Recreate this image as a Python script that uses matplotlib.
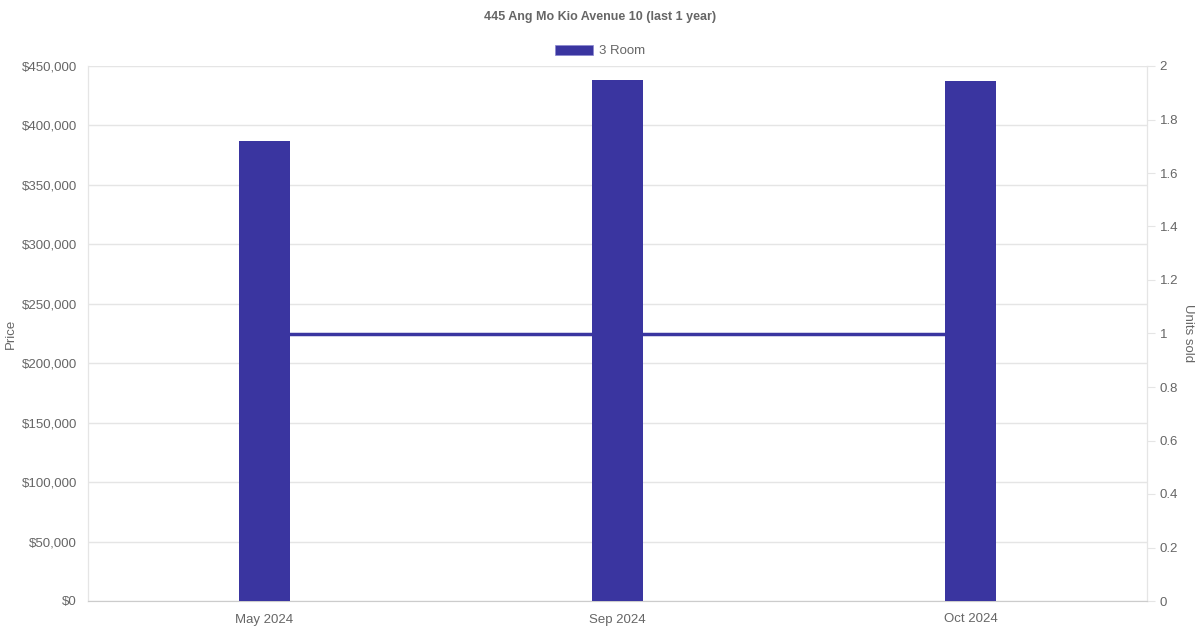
import matplotlib
matplotlib.use("Agg")
import matplotlib.pyplot as plt
from matplotlib.ticker import FuncFormatter, MultipleLocator
from matplotlib.patches import Patch

months = ["May 2024", "Sep 2024", "Oct 2024"]
prices = [387000, 438000, 437000]
units = [1, 1, 1]
series_name = "3 Room"
title = "445 Ang Mo Kio Avenue 10 (last 1 year)"

color = "#3a35a0"
text_c = "#666666"
grid_c = "#e5e5e5"

plt.rcParams["font.family"] = ["Liberation Sans", "DejaVu Sans"]

fig = plt.figure(figsize=(12, 6.3), dpi=100)
ax = fig.add_axes([88/1200, 29/630, (1147-88)/1200, (601-66)/630])
ax2 = ax.twinx()

x = list(range(len(months)))
ax.bar(x, prices, width=0.142, color=color, zorder=3)
ax2.plot(x, units, color=color, lw=2.5, zorder=2)

# bars on top of line
ax.set_zorder(ax2.get_zorder() + 1)
ax.patch.set_visible(False)

ax.set_xlim(-0.5, len(months) - 0.5)
ax.set_ylim(0, 450000)
ax.yaxis.set_major_locator(MultipleLocator(50000))
ax.yaxis.set_major_formatter(FuncFormatter(lambda v, p: f"${int(v):,}"))
ax.set_xticks(x)
ax.set_xticklabels(months)

ax2.set_ylim(0, 2)
ax2.yaxis.set_major_locator(MultipleLocator(0.2))
ax2.yaxis.set_major_formatter(FuncFormatter(lambda v, p: f"{v:g}"))

ax.grid(axis="y", color=grid_c, lw=1, zorder=0)
ax.grid(axis="x", visible=False)

for a in (ax, ax2):
    for s in a.spines.values():
        s.set_color(grid_c)
    a.spines["top"].set_visible(False)
    a.tick_params(colors=text_c, labelsize=9.5, length=6, color=grid_c)
ax.spines["bottom"].set_color("#cccccc")
ax.tick_params(axis="x", length=0, pad=9)
ax.tick_params(axis="y", length=0, pad=8)
ax2.tick_params(axis="y", length=6, pad=3)

ax.set_ylabel("Price", color=text_c, fontsize=9.5, va="center")
ax.yaxis.set_label_coords(-0.0727, 0.5)
ax2.set_ylabel("Units sold", color=text_c, fontsize=9.5, rotation=270, va="center")
ax2.yaxis.set_label_coords(1.0385, 0.5)

fig.text(0.5, 1 - 17/630, title, ha="center", va="center", color=text_c,
         fontsize=9, fontweight="bold")

handle = Patch(facecolor=color, edgecolor="#8a87d0", lw=0.5)
fig.legend([handle], [series_name], loc="center", bbox_to_anchor=(0.5, 1 - 51/630),
           frameon=False, fontsize=9.5, labelcolor=text_c, handlelength=2.9,
           handleheight=0.8, handletextpad=0.5)

fig.savefig("out.png", dpi=100)
